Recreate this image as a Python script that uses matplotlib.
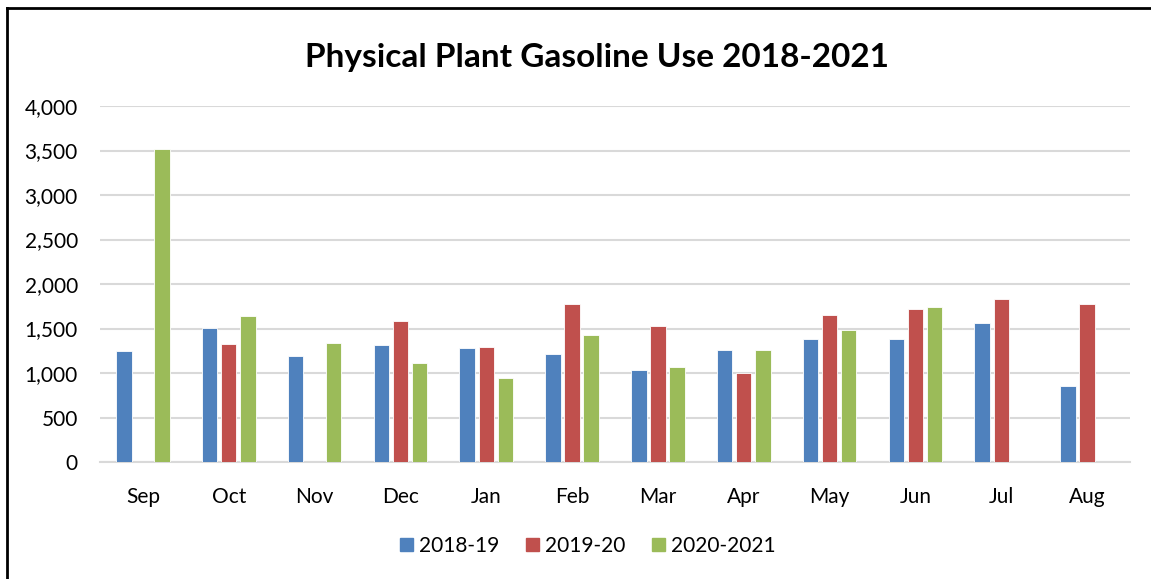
import matplotlib
matplotlib.use("Agg")
import matplotlib.pyplot as plt
import numpy as np
from matplotlib.lines import Line2D

months = ["Sep", "Oct", "Nov", "Dec", "Jan", "Feb", "Mar", "Apr", "May", "Jun", "Jul", "Aug"]
series_names = ["2018-19", "2019-20", "2020-2021"]
s2018_19 = [1245, 1511, 1188, 1312, 1286, 1218, 1038, 1256, 1380, 1387, 1567, 855]
s2019_20 = [0, 1331, 0, 1589, 1297, 1777, 1533, 1005, 1651, 1724, 1837, 1777]
s2020_21 = [3513, 1638, 1338, 1117, 941, 1432, 1065, 1263, 1485, 1747, 0, 0]
yticks = [0, 500, 1000, 1500, 2000, 2500, 3000, 3500, 4000]
colors = ["#4F81BD", "#C0504D", "#9BBB59"]

plt.rcParams['font.family'] = ['Lato', 'DejaVu Sans']

fig = plt.figure(figsize=(11.51, 5.79), dpi=100)
ax = fig.add_axes([100/1151, 1-462/579, 1030/1151, 356/579])

x = np.arange(len(months))
step = 0.222
width = 0.18
for i, (vals, c, name) in enumerate(zip([s2018_19, s2019_20, s2020_21], colors, series_names)):
    ax.bar(x + (i-1)*step, vals, width=width, color=c, edgecolor="white", linewidth=0.6,
           label=name, zorder=3)

ax.set_xlim(-0.5, len(months)-0.5)
ax.set_ylim(0, 4000)
ax.set_yticks(yticks)
ax.set_yticklabels([f"{v:,}" for v in yticks])
ax.set_xticks(x)
ax.set_xticklabels(months)
ax.tick_params(axis='both', length=0, labelsize=15, colors="#000000")
ax.tick_params(axis='y', pad=16)
ax.tick_params(axis='x', pad=18)
ax.grid(axis='y', color="#D9D9D9", linewidth=1.5, zorder=0)
for s in ["top", "right", "left"]:
    ax.spines[s].set_visible(False)
ax.spines["bottom"].set_color("#D9D9D9")
ax.spines["bottom"].set_linewidth(1.5)

fig.text(597/1151, 1-57/579, "Physical Plant Gasoline Use 2018-2021", ha="center", va="center",
         fontsize=24, fontweight="bold")

handles = [plt.Rectangle((0, 0), 1, 1, color=c) for c in colors]
fig.legend(handles, series_names, loc="center", bbox_to_anchor=(588/1151, 1-546/579),
           ncol=3, frameon=False, fontsize=15, handlelength=0.6, handleheight=0.6,
           handletextpad=0.3, columnspacing=1.3)

fig.add_artist(Line2D([6.5/1151, 6.5/1151], [0, 1-7.5/579], transform=fig.transFigure,
                      color="black", linewidth=2))
fig.add_artist(Line2D([6.5/1151, 1], [1-7.5/579, 1-7.5/579], transform=fig.transFigure,
                      color="black", linewidth=2))

fig.savefig("out.png", dpi=100)
